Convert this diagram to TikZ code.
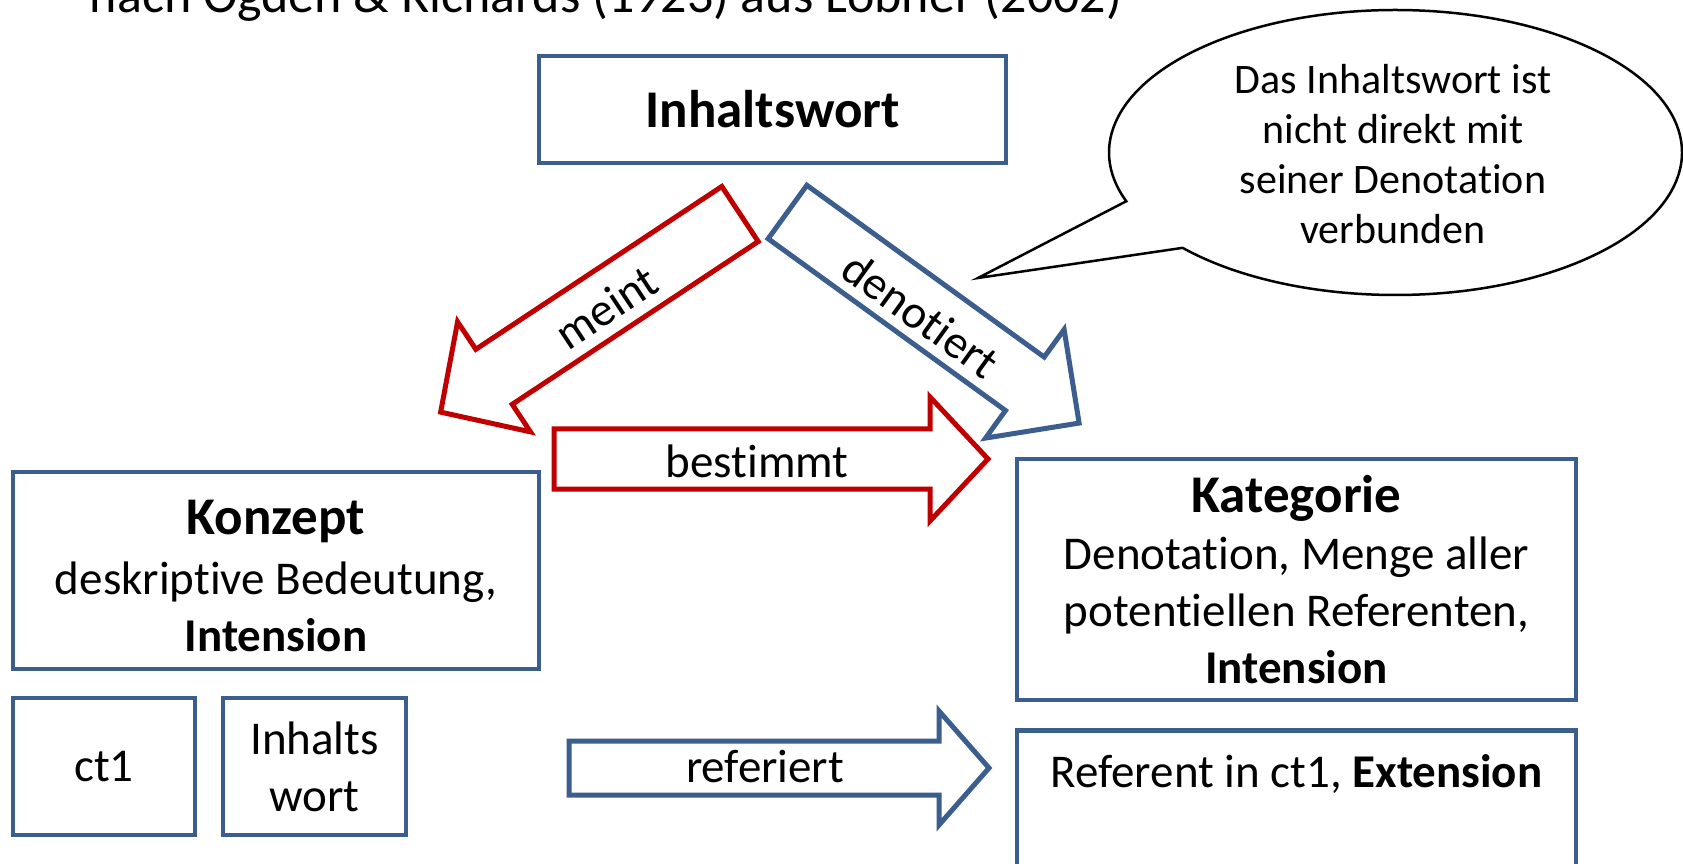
\documentclass[tikz,border=0pt]{standalone}
\usepackage{fontspec}
\setmainfont{Carlito}[Ligatures={NoCommon}]
\usepackage{tikz}

\definecolor{boxblue}{HTML}{3B5E8E}
\definecolor{arrowred}{HTML}{C00000}

\newcommand{\titlefont}{\fontsize{52}{62}\selectfont}
\newcommand{\boxfont}{\fontsize{47}{57}\selectfont}
\newcommand{\headfont}{\fontsize{53}{57}\selectfont\bfseries}
\newcommand{\bubblefont}{\fontsize{42}{50}\selectfont}

% block arrow: style, tail, angle, length, shaft half width, head half width, head length
\newcommand{\blockarrow}[7]{%
  \draw[#1, shift={(#2)}, rotate=#3]
    (0,-#5) -- ({#4-#7},-#5) -- ({#4-#7},-#6) -- (#4,0)
    -- ({#4-#7},#6) -- ({#4-#7},#5) -- (0,#5) -- cycle;
}

\begin{document}
\begin{tikzpicture}[
        x=1pt, y=1pt,
        bluebox/.style={draw=boxblue, line width=4.5pt, inner sep=0pt, align=center, font=\boxfont},
        redshape/.style={draw=arrowred, line width=5pt, fill=white},
        blueshape/.style={draw=boxblue, line width=5pt, fill=white},
        arrowlabel/.style={font=\boxfont, inner sep=0pt},
        bubbleline/.style={draw=black, line width=2.5pt, fill=white},
        bubbletext/.style={align=center, font=\bubblefont, inner sep=0pt}
    ]
        \useasboundingbox (0,0) rectangle (1683,863);

        % Title (cut at the top)
        \node[anchor=base, font=\titlefont, inner sep=0pt] (title) at (606,850)
            {nach Ogden \& Richards (1923) aus Löbner (2002)};

        % Content word
        \node[bluebox, minimum width=467pt, minimum height=107pt] (inhalt) at (772.5,753.5) {{\headfont Inhaltswort}};

        % meint
        \coordinate (meintTail) at (740,649);
        \blockarrow{redshape}{meintTail}{213.5}{359}{33}{66}{64}
        \node[arrowlabel, rotate=33.5] (meintLbl) at (606,556) {meint};

        % denotiert
        \coordinate (denotTail) at (787.5,651);
        \blockarrow{blueshape}{denotTail}{-35.9}{360}{33}{67}{67}
        \node[arrowlabel, rotate=-35.9] (denotLbl) at (921,548) {denotiert};

        % bestimmt
        \coordinate (bestTail) at (554,404);
        \blockarrow{redshape}{bestTail}{0}{434}{30}{62}{58}
        \node[arrowlabel] (bestLbl) at (757,402) {bestimmt};

        % referiert
        \coordinate (refTail) at (569,95);
        \blockarrow{blueshape}{refTail}{0}{420}{27}{57}{50}
        \node[arrowlabel] (refLbl) at (765,96) {referiert};

        % Speech bubble
        \coordinate (bubbleC) at (1395.5,710.5);
        \coordinate (bubbleTip) at (978,585);
        \draw[bubbleline] (bubbleC) ++(222:286.5 and 142.5)
            arc[start angle=222, end angle=560, x radius=286.5, y radius=142.5]
            -- (bubbleTip) -- cycle;
        \node[bubbletext] (note) at (1393,709)
            {Das Inhaltswort ist\\nicht direkt mit\\seiner Denotation\\verbunden};

        % Concept and category
        \node[bluebox, minimum width=526pt, minimum height=197pt] (konzept) at (276,292.5)
            {\rule{0pt}{45pt}{\headfont Konzept}\\[3pt]deskriptive Bedeutung,\\\textbf{Intension}};
        \node[bluebox, minimum width=559pt, minimum height=241pt] (kategorie) at (1296.5,283.5)
            {{\headfont Kategorie}\\Denotation, Menge aller\\potentiellen Referenten,\\\textbf{Intension}};

        % Context boxes
        \node[bluebox, minimum width=182pt, minimum height=137pt] (ctone) at (104,96.5) {ct1};
        \node[bluebox, minimum width=183pt, minimum height=137pt] (inhaltswort) at (314.5,96.5) {Inhalts\\wort};
        \node[bluebox, minimum width=559pt, anchor=north, inner ysep=17pt,
              text height=40pt, text depth=66pt] (referent) at (1296.5,135)
            {Referent in ct1, \textbf{Extension}};
\end{tikzpicture}
\end{document}
